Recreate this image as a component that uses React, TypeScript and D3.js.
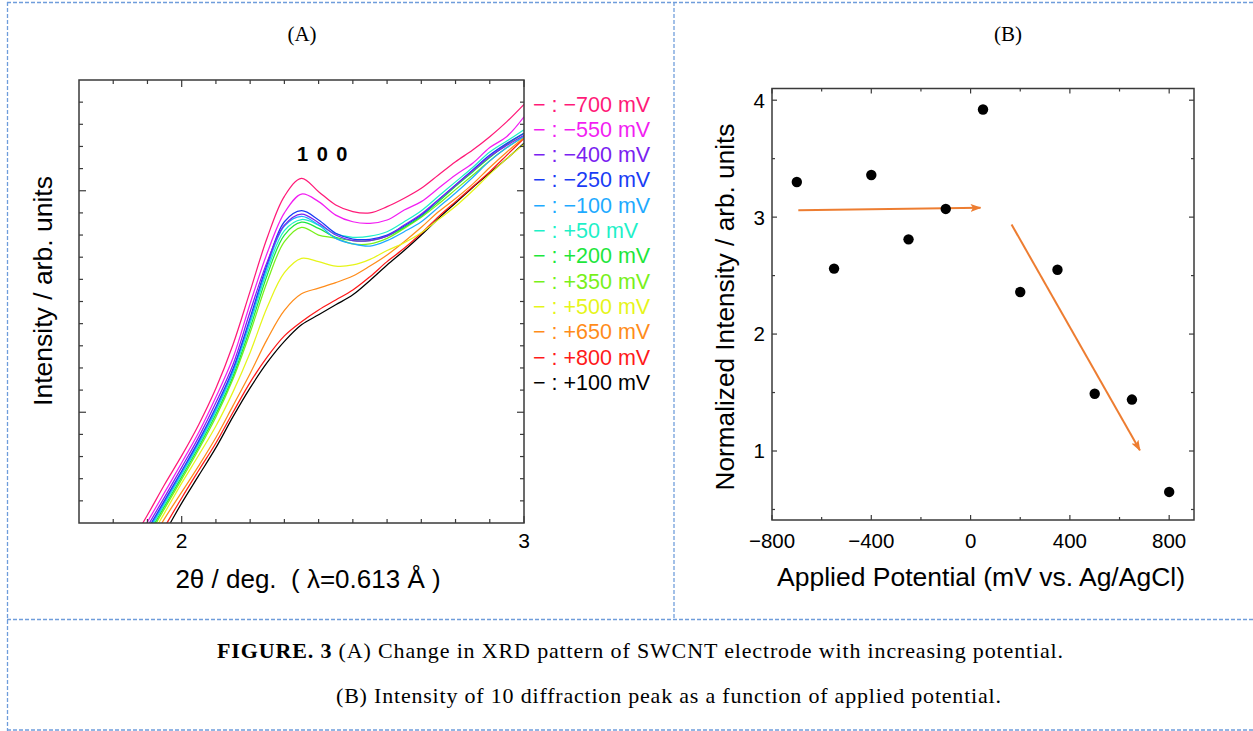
import React from 'react';
import * as d3 from 'd3';

// ---------- Panel A data (2θ in degrees, intensity in arbitrary units) ----------
const twoTheta = [1.85, 1.9, 1.95, 2.0, 2.05, 2.1, 2.15, 2.2, 2.25, 2.3, 2.35, 2.4, 2.45, 2.5, 2.55, 2.6, 2.65, 2.7, 2.75, 2.8, 2.85, 2.9, 2.95, 3.0];

const intM700 = [-0.95, 0.36, 1.74, 3.04, 4.45, 6.08, 8.06, 10.47, 12.89, 14.75, 15.56, 14.96, 14.36, 14.06, 14.0, 14.28, 14.66, 15.11, 15.71, 16.31, 16.84, 17.44, 18.12, 18.9];
const intM550 = [-1.25, 0.05, 1.38, 2.72, 4.1, 5.69, 7.46, 9.91, 12.2, 14.0, 14.85, 14.51, 13.9, 13.6, 13.53, 13.68, 14.13, 14.51, 15.11, 15.71, 16.24, 16.95, 17.45, 18.34];
const intM400 = [-1.45, -0.15, 1.17, 2.51, 3.89, 5.44, 7.16, 9.55, 11.8, 13.45, 13.95, 13.55, 13.0, 12.75, 12.75, 12.95, 13.45, 13.95, 14.6, 15.25, 15.9, 16.55, 17.05, 17.5];
const intM250 = [-1.6, -0.3, 1.02, 2.35, 3.72, 5.24, 6.96, 9.27, 11.7, 13.6, 14.1, 13.68, 13.08, 12.82, 12.81, 13.0, 13.41, 13.9, 14.58, 15.26, 15.94, 16.61, 17.14, 17.59];
const intM100 = [-1.65, -0.38, 0.94, 2.27, 3.64, 5.14, 6.86, 9.14, 11.57, 13.4, 13.84, 13.45, 12.85, 12.6, 12.5, 12.75, 13.15, 13.6, 14.25, 14.9, 15.6, 16.35, 16.95, 17.45];
const intP50 = [-1.7, -0.46, 0.86, 2.19, 3.55, 5.05, 6.76, 9.0, 11.4, 13.2, 13.7, 13.45, 13.05, 12.9, 12.95, 13.15, 13.6, 14.1, 14.75, 15.4, 16.05, 16.75, 17.25, 17.75];
const intP200 = [-1.8, -0.56, 0.76, 2.08, 3.44, 4.92, 6.63, 8.8, 11.2, 13.0, 13.58, 13.3, 12.9, 12.75, 12.75, 12.95, 13.35, 13.85, 14.5, 15.2, 15.85, 16.5, 17.1, 17.6];
const intP350 = [-1.9, -0.67, 0.65, 1.97, 3.33, 4.79, 6.5, 8.6, 10.9, 12.7, 13.35, 13.0, 12.85, 12.6, 12.6, 12.85, 13.3, 13.8, 14.4, 15.05, 15.7, 16.35, 16.95, 17.45];
const intP500 = [-2.0, -0.85, 0.46, 1.8, 3.07, 4.38, 5.92, 7.7, 9.75, 11.3, 11.95, 11.8, 11.6, 11.65, 11.9, 12.3, 12.65, 13.1, 13.7, 14.3, 15.0, 15.75, 16.45, 17.1];
const intP650 = [-2.2, -1.1, 0.2, 1.39, 2.59, 3.86, 5.3, 6.75, 8.3, 9.6, 10.35, 10.6, 10.85, 11.15, 11.6, 12.1, 12.7, 13.35, 14.05, 14.65, 15.3, 16.05, 16.75, 17.4];
const intP800 = [-2.5, -1.5, -0.18, 1.13, 2.38, 3.61, 5.0, 6.35, 7.5, 8.45, 9.09, 9.62, 10.07, 10.52, 11.12, 11.8, 12.4, 13.08, 13.83, 14.51, 15.18, 15.86, 16.61, 17.37];
const intP100 = [-2.7, -1.7, -0.45, 0.9, 2.15, 3.4, 4.8, 6.1, 7.25, 8.2, 8.95, 9.4, 9.85, 10.3, 10.95, 11.65, 12.3, 13.0, 13.75, 14.45, 15.15, 15.8, 16.45, 17.15];

const potentialLabels = ['−700', '−550', '−400', '−250', '−100', '+50', '+200', '+350', '+500', '+650', '+800', '+100'];
const seriesColors = ['#ff1a78', '#f21ef2', '#7a22f0', '#1a3cf5', '#1eaaff', '#1ef0c8', '#1ee63c', '#78f01a', '#e6f51a', '#ff8c1a', '#ff1a1a', '#000000'];
const seriesValues = [intM700, intM550, intM400, intM250, intM100, intP50, intP200, intP350, intP500, intP650, intP800, intP100];

const xTicksA = [1.8, 1.9, 2.0, 2.1, 2.2, 2.3, 2.4, 2.5, 2.6, 2.7, 2.8, 2.9, 3.0];
const xTickLabelsA = [2, 3];
const yTicksA = [1, 2, 3, 4, 5, 6, 7, 8, 9, 10, 11, 12, 13, 14, 15, 16, 17, 18, 19];
const yMajorA = [5, 15];

// ---------- Panel B data ----------
const appliedPotential = [-700, -550, -400, -250, -100, 50, 200, 350, 500, 650, 800];
const normIntensity = [3.3, 2.56, 3.36, 2.81, 3.07, 3.92, 2.36, 2.55, 1.49, 1.44, 0.65];
const xTicksB = [-800, -600, -400, -200, 0, 200, 400, 600, 800];
const xTickLabelsB = [-800, -400, 0, 400, 800];
const yTicksB = [0.5, 1, 1.5, 2, 2.5, 3, 3.5, 4];
const yTickLabelsB = [1, 2, 3, 4];
const arrowStartX = [-694, 165];
const arrowStartY = [3.058, 2.937];
const arrowEndX = [40, 682];
const arrowEndY = [3.08, 1.006];

const SANS = "'Liberation Sans', Arial, sans-serif";
const SERIF = "'Liberation Serif', 'Times New Roman', serif";
const AX = '#3a3a3a';
const BORDER = '#6f9ddb';
const ORANGE = '#ed7d31';

const fmtMinus = (v: number) => (v < 0 ? '−' + Math.abs(v) : String(v));

export default function App() {
  // Panel A scales
  const xA = d3.scaleLinear().domain([1.7, 3.0]).range([79, 524]);
  const yA = d3.scaleLinear().domain([0, 20]).range([523, 80]);
  const lineA = d3
    .line<number>()
    .x((_, i) => xA(twoTheta[i]))
    .y((d) => yA(d))
    .curve(d3.curveCatmullRom.alpha(0.5));

  // Panel B scales
  const xB = d3.scaleLinear().domain([-800, 900]).range([772, 1194]);
  const yB = d3.scaleLinear().domain([0.41, 4.1]).range([520, 88.5]);

  const [a0, a1] = xA.range();
  const [b0, b1] = [yA(0), yA(20)];
  const [c0, c1] = xB.range();
  const [d0, d1] = [yB(0.41), yB(4.1)];

  const drawOrder = seriesValues.map((_, i) => i).reverse();

  return (
    <svg
      width={1253}
      height={731}
      style={{ position: 'absolute', left: 0, top: 0, background: '#fff' }}
      xmlns="http://www.w3.org/2000/svg"
    >
      <defs>
        <clipPath id="clipA">
          <rect x={a0} y={b1} width={a1 - a0} height={b0 - b1} />
        </clipPath>
        <marker id="arrowHead" markerUnits="userSpaceOnUse" markerWidth={11} markerHeight={8} refX={10} refY={4} orient="auto">
          <path d="M0,0 L11,4 L0,8 L2.5,4 z" fill={ORANGE} />
        </marker>
      </defs>
      <rect x={0} y={0} width={1253} height={731} fill="#fff" />

      {/* dashed frame */}
      <g stroke={BORDER} strokeWidth={1.3} strokeDasharray="4 2" fill="none">
        <line x1={7} y1={2.5} x2={1253} y2={2.5} />
        <line x1={7.5} y1={2} x2={7.5} y2={731} />
        <line x1={674} y1={2} x2={674} y2={619.5} strokeWidth={1.6} opacity={0.8} />
        <line x1={7} y1={619.5} x2={1253} y2={619.5} />
        <line x1={7} y1={730} x2={1253} y2={730} />
      </g>

      {/* panel titles */}
      <text x={302} y={41} fontFamily={SERIF} fontSize={21} textAnchor="middle">(A)</text>
      <text x={1008} y={41} fontFamily={SERIF} fontSize={21} textAnchor="middle">(B)</text>

      {/* ---------- Panel A ---------- */}
      <g clipPath="url(#clipA)" fill="none">
        {drawOrder.map((i) => (
          <path key={i} d={lineA(seriesValues[i]) || ''} stroke={seriesColors[i]} strokeWidth={1.25} />
        ))}
      </g>
      <rect x={a0} y={b1} width={a1 - a0} height={b0 - b1} fill="none" stroke={AX} strokeWidth={1.5} />
      <g stroke={AX} strokeWidth={1.2}>
        {xTicksA.map((t) => {
          const len = Math.abs(t - Math.round(t)) < 1e-6 ? 7 : 4;
          const x = xA(t);
          return (
            <g key={'xa' + t}>
              <line x1={x} x2={x} y1={b0} y2={b0 - len} />
              <line x1={x} x2={x} y1={b1} y2={b1 + len} />
            </g>
          );
        })}
        {yTicksA.map((t) => {
          const len = yMajorA.includes(t) ? 7 : 4;
          const y = yA(t);
          return (
            <g key={'ya' + t}>
              <line x1={a0} x2={a0 + len} y1={y} y2={y} />
              <line x1={a1} x2={a1 - len} y1={y} y2={y} />
            </g>
          );
        })}
      </g>
      {xTickLabelsA.map((t) => (
        <text key={'xla' + t} x={xA(t)} y={548} fontFamily={SANS} fontSize={21} textAnchor="middle">{t}</text>
      ))}
      <text x={308} y={588} fontFamily={SANS} fontSize={26} textAnchor="middle" style={{ whiteSpace: 'pre' }}>
        2θ / deg.  ( λ=0.613 Å )
      </text>
      <text transform="translate(52,291) rotate(-90)" fontFamily={SANS} fontSize={26.5} textAnchor="middle">
        Intensity / arb. units
      </text>
      <text x={323} y={161} fontFamily={SANS} fontSize={20} fontWeight="bold" textAnchor="middle" letterSpacing={1.5}>
        1 0 0
      </text>
      {potentialLabels.map((p, i) => (
        <text key={'lg' + i} x={533} y={111.5 + i * 25.3} fontFamily={SANS} fontSize={21.5} fill={seriesColors[i]} style={{ whiteSpace: 'pre' }}>
          {'− : ' + p + ' mV'}
        </text>
      ))}

      {/* ---------- Panel B ---------- */}
      <rect x={c0} y={d1} width={c1 - c0} height={d0 - d1} fill="none" stroke={AX} strokeWidth={1.5} />
      <g stroke={AX} strokeWidth={1.2}>
        {xTicksB.map((t) => {
          const len = xTickLabelsB.includes(t) ? 5 : 3;
          const x = xB(t);
          return (
            <g key={'xb' + t}>
              <line x1={x} x2={x} y1={d0} y2={d0 - len} />
              <line x1={x} x2={x} y1={d1} y2={d1 + len} />
            </g>
          );
        })}
        {yTicksB.map((t) => {
          const len = yTickLabelsB.includes(t) ? 5 : 3;
          const y = yB(t);
          return (
            <g key={'yb' + t}>
              <line x1={c0} x2={c0 + len} y1={y} y2={y} />
              <line x1={c1} x2={c1 - len} y1={y} y2={y} />
            </g>
          );
        })}
      </g>
      {xTickLabelsB.map((t) => (
        <text key={'xlb' + t} x={xB(t)} y={548} fontFamily={SANS} fontSize={20.5} textAnchor="middle">{fmtMinus(t)}</text>
      ))}
      {yTickLabelsB.map((t) => (
        <text key={'ylb' + t} x={765} y={yB(t)} dy="0.36em" fontFamily={SANS} fontSize={20.5} textAnchor="end">{t}</text>
      ))}
      <text x={981} y={586} fontFamily={SANS} fontSize={26.5} textAnchor="middle">
        Applied Potential (mV vs. Ag/AgCl)
      </text>
      <text transform="translate(734,307) rotate(-90)" fontFamily={SANS} fontSize={26.2} textAnchor="middle">
        Normalized Intensity / arb. units
      </text>
      {arrowStartX.map((_, i) => (
        <line
          key={'ar' + i}
          x1={xB(arrowStartX[i])}
          y1={yB(arrowStartY[i])}
          x2={xB(arrowEndX[i])}
          y2={yB(arrowEndY[i])}
          stroke={ORANGE}
          strokeWidth={2}
          markerEnd="url(#arrowHead)"
        />
      ))}
      {appliedPotential.map((p, i) => (
        <circle key={'pt' + i} cx={xB(p)} cy={yB(normIntensity[i])} r={5.2} fill="#000" />
      ))}

      {/* caption */}
      <text x={217} y={658} fontFamily={SERIF} fontSize={22} textLength={846} lengthAdjust="spacing">
        <tspan fontWeight="bold">FIGURE. 3</tspan>
        <tspan> (A) Change in XRD pattern of SWCNT electrode with increasing potential.</tspan>
      </text>
      <text x={336} y={703} fontFamily={SERIF} fontSize={22} textLength={665} lengthAdjust="spacing">
        (B) Intensity of 10 diffraction peak as a function of applied potential.
      </text>
    </svg>
  );
}
